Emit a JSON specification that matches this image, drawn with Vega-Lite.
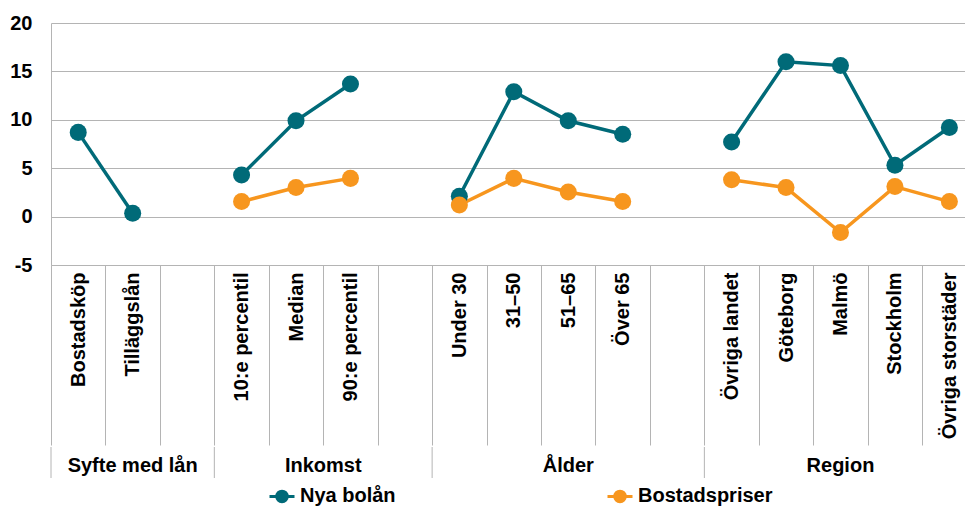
{
  "$schema": "https://vega.github.io/schema/vega-lite/v6.json",
  "padding": {"left": 9, "top": 13, "right": 0, "bottom": 0},
  "config": {
    "font": "Liberation Sans",
    "view": {"stroke": null},
    "concat": {"spacing": 0}
  },
  "datasets": {
    "vals": [
      {"kat": "Bostadsköp", "grupp": "Syfte med lån", "serie": "Nya bolån", "v": 8.7, "i": 0},
      {"kat": "Tilläggslån", "grupp": "Syfte med lån", "serie": "Nya bolån", "v": 0.35, "i": 1},
      {"kat": "10:e percentil", "grupp": "Inkomst", "serie": "Nya bolån", "v": 4.3, "i": 3},
      {"kat": "Median", "grupp": "Inkomst", "serie": "Nya bolån", "v": 9.9, "i": 4},
      {"kat": "90:e percentil", "grupp": "Inkomst", "serie": "Nya bolån", "v": 13.7, "i": 5},
      {"kat": "Under 30", "grupp": "Ålder", "serie": "Nya bolån", "v": 2.1, "i": 7},
      {"kat": "31–50", "grupp": "Ålder", "serie": "Nya bolån", "v": 12.9, "i": 8},
      {"kat": "51–65", "grupp": "Ålder", "serie": "Nya bolån", "v": 9.9, "i": 9},
      {"kat": "Över 65", "grupp": "Ålder", "serie": "Nya bolån", "v": 8.5, "i": 10},
      {"kat": "Övriga landet", "grupp": "Region", "serie": "Nya bolån", "v": 7.7, "i": 12},
      {"kat": "Göteborg", "grupp": "Region", "serie": "Nya bolån", "v": 16.0, "i": 13},
      {"kat": "Malmö", "grupp": "Region", "serie": "Nya bolån", "v": 15.6, "i": 14},
      {"kat": "Stockholm", "grupp": "Region", "serie": "Nya bolån", "v": 5.3, "i": 15},
      {"kat": "Övriga storstäder", "grupp": "Region", "serie": "Nya bolån", "v": 9.2, "i": 16},
      {"kat": "10:e percentil", "grupp": "Inkomst", "serie": "Bostadspriser", "v": 1.55, "i": 3},
      {"kat": "Median", "grupp": "Inkomst", "serie": "Bostadspriser", "v": 3.0, "i": 4},
      {"kat": "90:e percentil", "grupp": "Inkomst", "serie": "Bostadspriser", "v": 3.95, "i": 5},
      {"kat": "Under 30", "grupp": "Ålder", "serie": "Bostadspriser", "v": 1.2, "i": 7},
      {"kat": "31–50", "grupp": "Ålder", "serie": "Bostadspriser", "v": 3.95, "i": 8},
      {"kat": "51–65", "grupp": "Ålder", "serie": "Bostadspriser", "v": 2.55, "i": 9},
      {"kat": "Över 65", "grupp": "Ålder", "serie": "Bostadspriser", "v": 1.55, "i": 10},
      {"kat": "Övriga landet", "grupp": "Region", "serie": "Bostadspriser", "v": 3.8, "i": 12},
      {"kat": "Göteborg", "grupp": "Region", "serie": "Bostadspriser", "v": 3.0, "i": 13},
      {"kat": "Malmö", "grupp": "Region", "serie": "Bostadspriser", "v": -1.65, "i": 14},
      {"kat": "Stockholm", "grupp": "Region", "serie": "Bostadspriser", "v": 3.1, "i": 15},
      {"kat": "Övriga storstäder", "grupp": "Region", "serie": "Bostadspriser", "v": 1.55, "i": 16}
    ],
    "grupper": [
      {"namn": "Syfte med lån", "forsta": "Bostadsköp", "mitt": "Tilläggslån"},
      {"namn": "Inkomst", "forsta": "10:e percentil", "mitt": "90:e percentil"},
      {"namn": "Ålder", "forsta": "Under 30", "mitt": "51–65"},
      {"namn": "Region", "forsta": "Övriga landet", "mitt": "Malmö"}
    ]
  },
  "vconcat": [
    {
      "width": 914,
      "height": 242,
      "data": {"name": "vals"},
      "encoding": {
        "x": {
          "field": "kat",
          "type": "nominal",
          "scale": {
            "domain": ["Bostadsköp", "Tilläggslån", " ", "10:e percentil", "Median", "90:e percentil", "  ", "Under 30", "31–50", "51–65", "Över 65", "   ", "Övriga landet", "Göteborg", "Malmö", "Stockholm", "Övriga storstäder"],
            "range": [0, 925.6],
            "paddingInner": 0,
            "paddingOuter": 0
          },
          "axis": {
            "title": null,
            "orient": "bottom",
            "tickBand": "extent",
            "tickSize": 180,
            "tickColor": "#b4b4b4",
            "tickWidth": 1,
            "domainColor": "#b4b4b4",
            "domainWidth": 1,
            "labelAngle": -90,
            "labelAlign": "right",
            "labelBaseline": "middle",
            "labelPadding": -173,
            "labelFontSize": 20,
            "labelFontWeight": "bold",
            "labelColor": "#000000",
            "labelLimit": 300,
            "labelOverlap": false,
            "grid": false
          }
        },
        "y": {
          "field": "v",
          "type": "quantitative",
          "scale": {"domain": [-5, 20], "nice": false, "zero": false},
          "axis": {
            "title": null,
            "values": [-5, 0, 5, 10, 15, 20],
            "labelExpr": "'' + datum.value",
            "ticks": false,
            "labelPadding": 19,
            "labelFontSize": 20,
            "labelFontWeight": "bold",
            "labelColor": "#000000",
            "domain": true,
            "domainColor": "#b4b4b4",
            "domainWidth": 1,
            "gridColor": "#b4b4b4",
            "gridWidth": 1
          }
        },
        "color": {
          "field": "serie",
          "type": "nominal",
          "scale": {"domain": ["Nya bolån", "Bostadspriser"], "range": ["#006a78", "#f7961e"]},
          "legend": {
            "title": null,
            "orient": "none",
            "legendX": 217,
            "legendY": 459,
            "direction": "horizontal",
            "columns": 2,
            "columnPadding": 205,
            "padding": 0,
            "labelFontSize": 20,
            "labelFontWeight": "bold",
            "labelColor": "#000000",
            "labelOffset": 4,
            "labelLimit": 300,
            "symbolType": "M-1,0L1,0M-0.42,0A0.42,0.42 0 1,0 0.42,0A0.42,0.42 0 1,0 -0.42,0Z",
            "symbolSize": 625,
            "symbolStrokeWidth": 3,
            "encode": {
              "symbols": {
                "update": {
                  "fill": {"scale": "color", "field": "value"},
                  "stroke": {"scale": "color", "field": "value"},
                  "size": {"value": 625},
                  "strokeWidth": {"value": 3},
                  "opacity": {"value": 1}
                }
              }
            }
          }
        }
      },
      "layer": [
        {
          "mark": {"type": "line", "strokeWidth": 3.5},
          "encoding": {
            "detail": {"field": "grupp", "type": "nominal"},
            "order": {"field": "i", "type": "quantitative"}
          }
        },
        {
          "mark": {"type": "point", "filled": true, "size": 290, "opacity": 1}
        }
      ]
    },
    {
      "width": 914,
      "height": 31,
      "data": {"name": "grupper"},
      "layer": [
        {
          "mark": {"type": "rule", "color": "#b4b4b4", "strokeWidth": 1},
          "encoding": {
            "x": {
              "field": "forsta",
              "type": "nominal",
              "bandPosition": 0,
              "scale": {
                "domain": ["Bostadsköp", "Tilläggslån", " ", "10:e percentil", "Median", "90:e percentil", "  ", "Under 30", "31–50", "51–65", "Över 65", "   ", "Övriga landet", "Göteborg", "Malmö", "Stockholm", "Övriga storstäder"],
                "range": [0, 925.6],
                "paddingInner": 0,
                "paddingOuter": 0
              },
              "axis": null
            }
          }
        },
        {
          "transform": [{"filter": "datum.namn !== 'Inkomst'"}],
          "mark": {"type": "text", "fontSize": 20, "fontWeight": "bold", "color": "#000000", "dy": 3},
          "encoding": {
            "x": {"field": "mitt", "type": "nominal", "bandPosition": 0.5, "axis": null},
            "text": {"field": "namn"}
          }
        },
        {
          "transform": [{"filter": "datum.namn === 'Inkomst'"}],
          "mark": {"type": "text", "fontSize": 20, "fontWeight": "bold", "color": "#000000", "dy": 3},
          "encoding": {
            "x": {"field": "mitt", "type": "nominal", "bandPosition": 0, "axis": null},
            "text": {"field": "namn"}
          }
        }
      ]
    }
  ]
}
